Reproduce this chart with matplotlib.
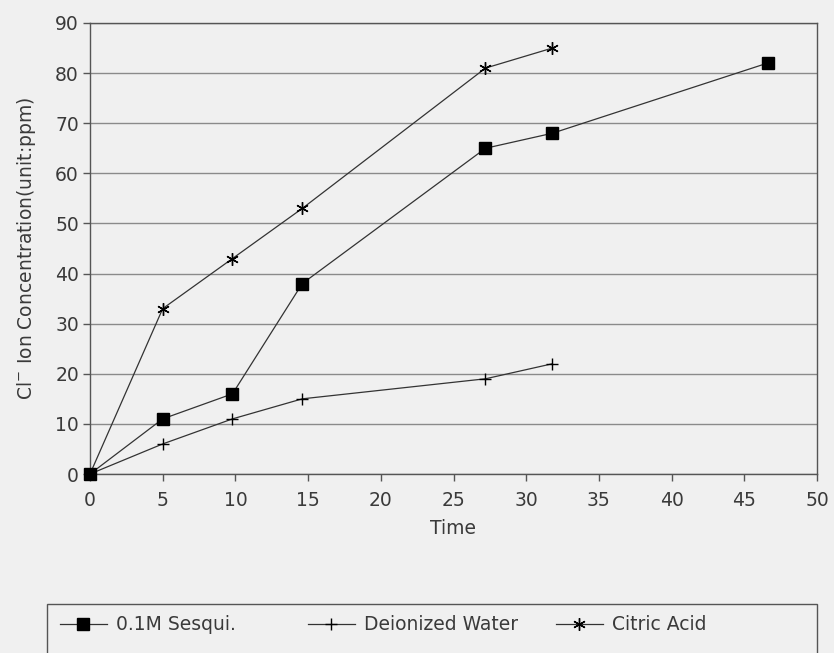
import numpy as np
import matplotlib.pyplot as plt
from matplotlib.patches import Rectangle

plt.rcParams['font.family'] = ['DejaVu Sans']

# sampling times
time = [0, 5, 9.8, 14.6, 27.2, 31.8, 46.6]
time_short = [0, 5, 9.8, 14.6, 27.2, 31.8]

# Cl- concentration (ppm)
sesqui = [0, 11, 16, 38, 65, 68, 82]
deionized = [0, 6, 11, 15, 19, 22]
citric = [0, 33, 43, 53, 81, 85]

bg = '#f0f0f0'
ink = '#333333'
txt = '#3a3a3a'
fs = 13.5

fig = plt.figure(figsize=(8.34, 6.53), dpi=100, facecolor=bg)
ax = fig.add_axes([90/834, 1-474/653, (817-90)/834, (474-23)/653])
ax.set_facecolor(bg)

l1, = ax.plot(time, sesqui, color=ink, lw=0.9, marker='s', ms=8,
              mfc='black', mec='black', clip_on=False, zorder=4)
l2, = ax.plot(time_short, deionized, color=ink, lw=0.9, marker='+', ms=9,
              mew=1.0, mec='black', clip_on=False, zorder=3)
l3, = ax.plot(time_short, citric, color=ink, lw=0.9, marker=(6, 2, 0), ms=9,
              mew=1.0, mec='black', clip_on=False, zorder=3)

ax.set_xlim(0, 50)
ax.set_ylim(0, 90)
ax.set_xticks(np.arange(0, 51, 5))
ax.set_yticks(np.arange(0, 91, 10))
ax.yaxis.grid(True, color='#8a8a8a', lw=1.0)
ax.set_axisbelow(True)
for s in ax.spines.values():
    s.set_color('#555555')
    s.set_linewidth(1.0)
ax.tick_params(colors='#555555', labelcolor=txt, labelsize=fs,
               length=5, width=1.0)
ax.tick_params(axis='x', pad=7)
ax.tick_params(axis='y', pad=3)

ax.set_xlabel('Time', fontsize=fs, color=txt, labelpad=7)
ax.set_ylabel('Cl$^{-}$ Ion Concentration(unit:ppm)', fontsize=fs,
              color=txt, labelpad=12)

# legend box running off the bottom edge
fig.patches.append(Rectangle((47/834, -0.05), (817-47)/834, 0.05+(653-604)/653,
                             transform=fig.transFigure, fill=False,
                             ec='#555555', lw=1.0))
entries = [(l1, '0.1M Sesqui.', 60), (l2, 'Deionized Water', 308),
           (l3, 'Citric Acid', 556)]
for h, lab, x0 in entries:
    fig.legend([h], [lab], loc='center left',
               bbox_to_anchor=(x0/834, 1-625/653), frameon=False,
               fontsize=fs, handlelength=2.5, handletextpad=0.5,
               borderpad=0, borderaxespad=0, labelcolor=txt)

fig.savefig('out.png', dpi=100, facecolor=bg)
